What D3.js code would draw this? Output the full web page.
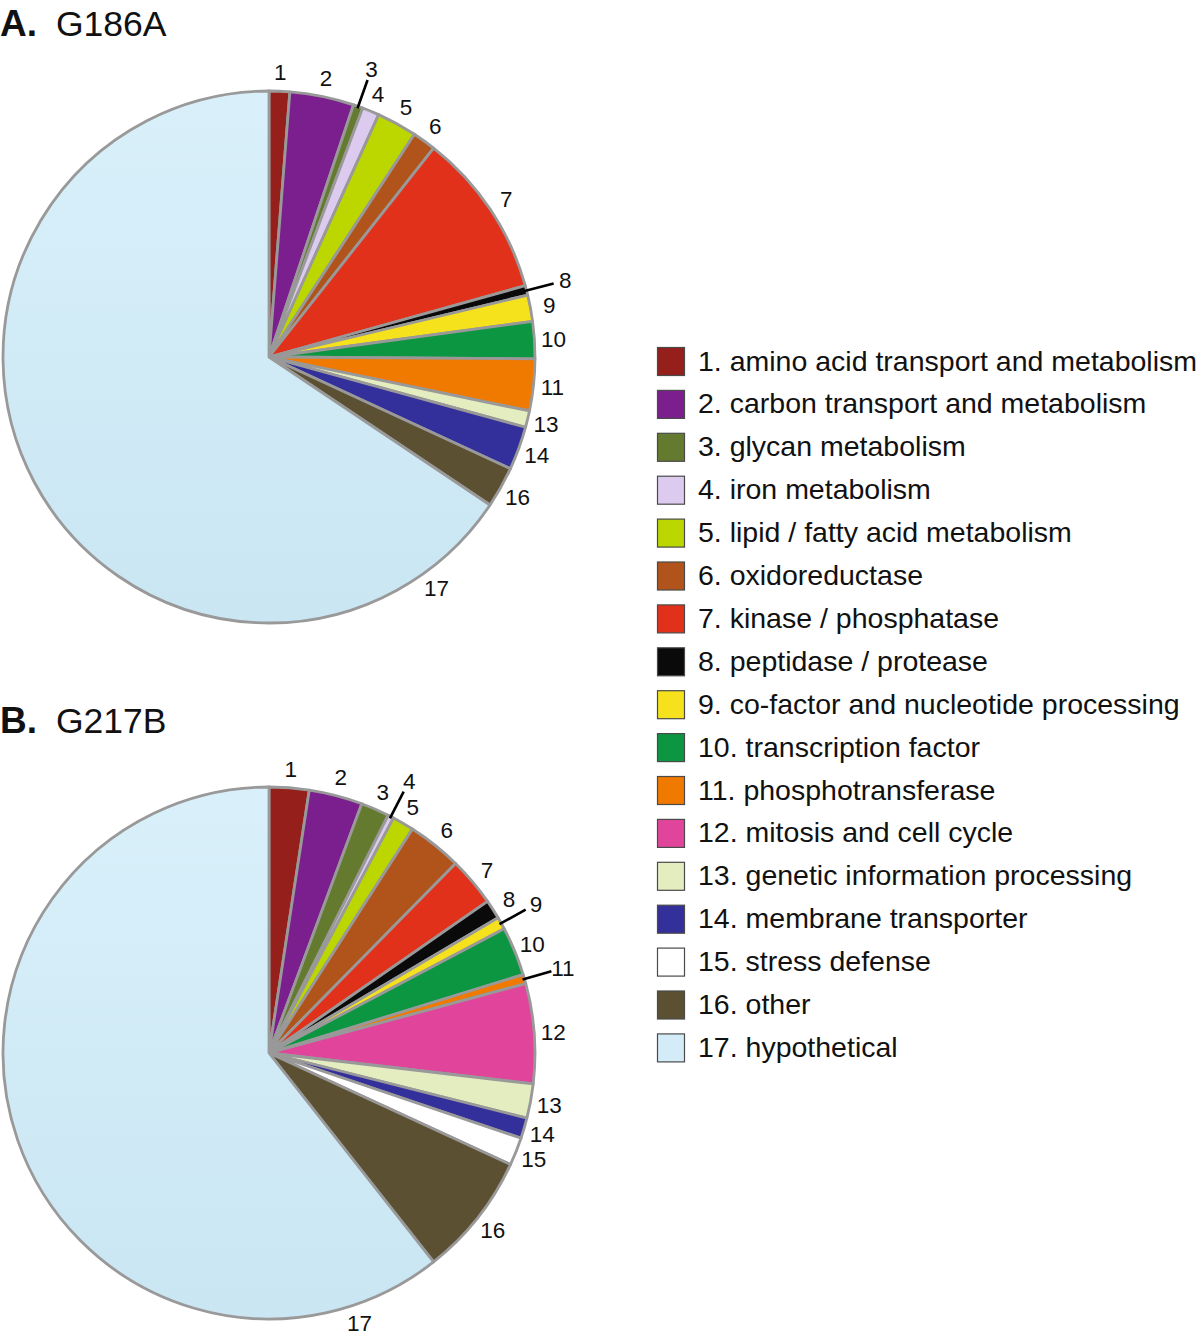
<!DOCTYPE html>
<html>
<head>
<meta charset="utf-8">
<script src="https://cdn.jsdelivr.net/npm/d3@7"></script>
<style>
  html, body { margin: 0; padding: 0; background: #fff; }
  svg { display: block; font-family: "Liberation Sans", Arial, Helvetica, sans-serif; }
</style>
</head>
<body>
<svg id="chart" width="1200" height="1335"></svg>
<script>
// ---------------- data ----------------
const categoryNumbers = [1, 2, 3, 4, 5, 6, 7, 8, 9, 10, 11, 12, 13, 14, 15, 16, 17];
const categories = [
  "amino acid transport and metabolism",
  "carbon transport and metabolism",
  "glycan metabolism",
  "iron metabolism",
  "lipid / fatty acid metabolism",
  "oxidoreductase",
  "kinase / phosphatase",
  "peptidase / protease",
  "co-factor and nucleotide processing",
  "transcription factor",
  "phosphotransferase",
  "mitosis and cell cycle",
  "genetic information processing",
  "membrane transporter",
  "stress defense",
  "other",
  "hypothetical"
];
const categoryColors = [
  "#941f1b", "#7c1f8e", "#647a2f", "#dccbee", "#bcd600", "#b1541b",
  "#e1311a", "#0a0a0a", "#f6e21c", "#0d9641", "#f07900", "#e0459b",
  "#e3edc0", "#34309b", "#ffffff", "#5c5033", "#d3ecf7"
];
// percent of genes per category
const g186aValues = [1.25, 3.9, 0.58, 1.03, 2.44, 1.42, 10.06, 0.58, 1.6, 2.25, 3.14, 0, 1.0, 2.64, 0, 2.5, 65.6];
const g217bValues = [2.42, 3.25, 1.72, 0.36, 1.31, 3.31, 2.97, 1.17, 0.75, 2.97, 0.56, 6.06, 2.08, 1.25, 1.69, 7.5, 60.6];
const panelLetters = ["A.", "B."];
const panelNames = ["G186A", "G217B"];

// ---------------- layout ----------------
const panels = [
  { values: g186aValues, cx: 269, cy: 357, titleY: 36, leaders: [3, 8], angleOverride: { 17: 144 } },
  { values: g217bValues, cx: 269, cy: 1053, titleY: 733, leaders: [4, 9, 11], angleOverride: { 17: 161.5 } }
];
const R = 266;
const svg = d3.select("#chart");

const defs = svg.append("defs");
const grad = defs.append("linearGradient").attr("id", "blueGrad")
  .attr("x1", 0).attr("y1", 0).attr("x2", 0).attr("y2", 1);
grad.append("stop").attr("offset", "0%").attr("stop-color", "#d9f0fa");
grad.append("stop").attr("offset", "100%").attr("stop-color", "#c9e6f2");

const pie = d3.pie().sort(null).value(d => d.value).startAngle(0).endAngle(2 * Math.PI);
const arc = d3.arc().innerRadius(0).outerRadius(R);

function polar(angleDeg, r) {
  const a = angleDeg * Math.PI / 180;
  return [r * Math.sin(a), -r * Math.cos(a)];
}

panels.forEach((p, pi) => {
  // title
  const t = svg.append("text").attr("x", 0).attr("y", p.titleY)
    .attr("font-size", 37).attr("fill", "#111");
  t.append("tspan").attr("font-weight", "bold").text(panelLetters[pi]);
  t.append("tspan").attr("x", 56).attr("font-size", 35.5).text(panelNames[pi]);

  const data = categoryNumbers.map((n, i) => ({ n, value: p.values[i], color: categoryColors[i] }));
  const arcs = pie(data).filter(d => d.data.value > 0);

  const g = svg.append("g").attr("transform", `translate(${p.cx},${p.cy})`);
  g.selectAll("path.slice").data(arcs).join("path")
    .attr("class", "slice")
    .attr("d", arc)
    .attr("fill", d => d.data.n === 17 ? "url(#blueGrad)" : d.data.color)
    .attr("stroke", "#999999")
    .attr("stroke-width", 2.8)
    .attr("stroke-linejoin", "round");

  arcs.forEach(d => {
    const mid = (d.startAngle + d.endAngle) / 2 * 180 / Math.PI;
    const ang = p.angleOverride[d.data.n] !== undefined ? p.angleOverride[d.data.n] : mid;
    let pos;
    if (p.leaders.includes(d.data.n)) {
      const a = polar(ang, R - 2), b = polar(ang, R + 28);
      g.append("line").attr("x1", a[0]).attr("y1", a[1]).attr("x2", b[0]).attr("y2", b[1])
        .attr("stroke", "#000").attr("stroke-width", 2.6);
      pos = polar(ang, R + 40);
    } else {
      pos = polar(ang, R + 19);
    }
    g.append("text").attr("x", pos[0]).attr("y", pos[1]).attr("dy", "0.36em")
      .attr("text-anchor", "middle").attr("font-size", 22.5).attr("fill", "#111")
      .text(d.data.n);
  });
});

// ---------------- legend ----------------
const legend = svg.append("g").attr("transform", "translate(657,347)");
const rowH = 42.9;
const rows = legend.selectAll("g.row").data(categories).join("g")
  .attr("class", "row")
  .attr("transform", (d, i) => `translate(0,${i * rowH})`);
rows.append("rect").attr("x", 0.5).attr("y", 0.5).attr("width", 27).attr("height", 28)
  .attr("fill", (d, i) => categoryColors[i]).attr("stroke", "#4a4a4a").attr("stroke-width", 1.2);
rows.append("text").attr("x", 41).attr("y", 23.5).attr("font-size", 28.5).attr("fill", "#111")
  .text((d, i) => `${categoryNumbers[i]}. ${d}`);
</script>
</body>
</html>
